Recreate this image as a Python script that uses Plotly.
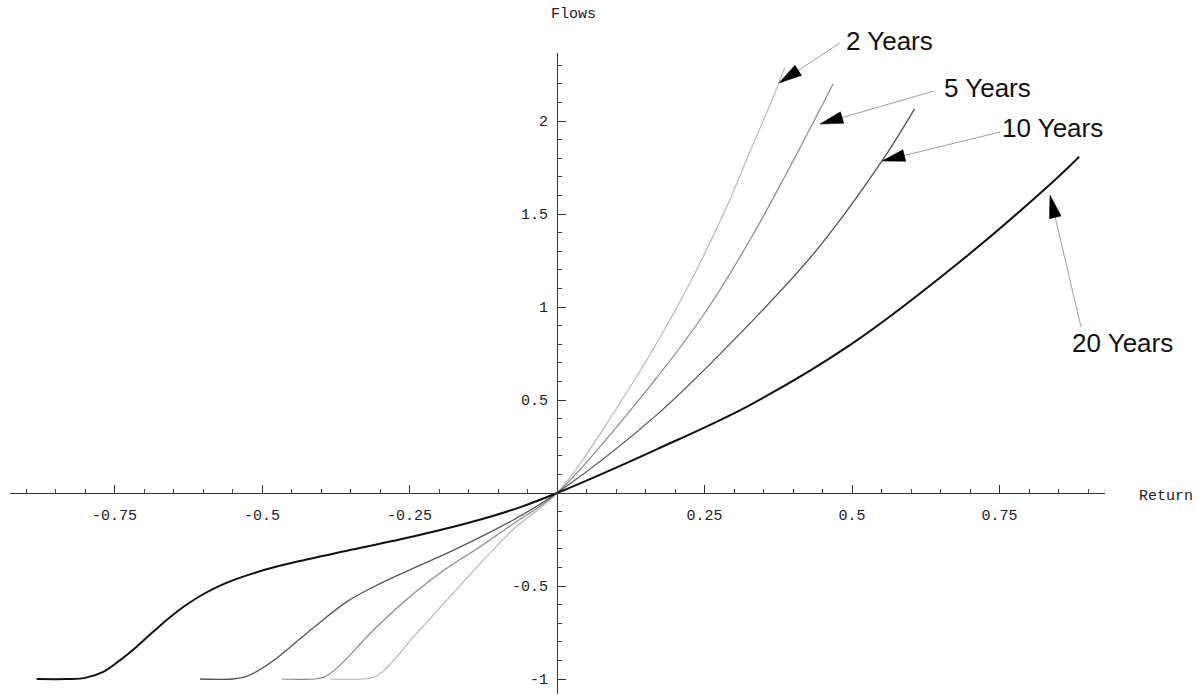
import math
import plotly.graph_objects as go

# ---- data ----
x_2y = [-0.385, -0.33, -0.31, -0.295, -0.272, -0.244, -0.187, -0.131, -0.074, 0.0, 0.10, 0.202, 0.285, 0.327, 0.364, 0.386]
y_2y = [-1.0, -1.0, -0.99, -0.96, -0.882, -0.776, -0.577, -0.382, -0.195, 0.0, 0.45, 0.99, 1.52, 1.835, 2.11, 2.287]

x_5y = [-0.467, -0.41, -0.395, -0.38, -0.356, -0.328, -0.30, -0.244, -0.187, -0.131, -0.074, 0.0, 0.169, 0.254, 0.327, 0.389, 0.454, 0.468]
y_5y = [-1.0, -1.0, -0.99, -0.96, -0.889, -0.793, -0.703, -0.543, -0.405, -0.29, -0.165, 0.0, 0.62, 0.984, 1.36, 1.719, 2.113, 2.20]

x_10y = [-0.605, -0.55, -0.53, -0.515, -0.481, -0.436, -0.413, -0.356, -0.30, -0.244, -0.187, -0.131, -0.074, 0.0, 0.169, 0.327, 0.44, 0.55, 0.606]
y_10y = [-1.0, -1.0, -0.99, -0.97, -0.902, -0.785, -0.725, -0.584, -0.487, -0.405, -0.325, -0.239, -0.145, 0.0, 0.42, 0.912, 1.306, 1.781, 2.065]

x_20y = [-0.882, -0.83, -0.80, -0.769, -0.741, -0.712, -0.684, -0.656, -0.628, -0.599, -0.571, -0.543, -0.515, -0.486, -0.436, -0.356, -0.244, -0.131, -0.063, 0.0, 0.169, 0.327, 0.497, 0.666, 0.836, 0.885]
y_20y = [-1.0, -1.0, -0.994, -0.962, -0.90, -0.825, -0.745, -0.668, -0.601, -0.543, -0.498, -0.462, -0.432, -0.405, -0.366, -0.310, -0.234, -0.144, -0.077, 0.0, 0.235, 0.473, 0.796, 1.20, 1.66, 1.808]

series_names = ["2 Years", "5 Years", "10 Years", "20 Years"]

x_ticks = [-0.75, -0.5, -0.25, 0.25, 0.5, 0.75]
x_tick_labels = ["-0.75", "-0.5", "-0.25", "0.25", "0.5", "0.75"]
y_ticks = [-1, -0.5, 0.5, 1, 1.5, 2]
y_tick_labels = ["-1", "-0.5", "0.5", "1", "1.5", "2"]

# ---- layout / decoration (pixel positions) ----
W, H = 1197, 697
label_px = {"2 Years": (889, 41), "5 Years": (987, 88),
            "10 Years": (1052, 128), "20 Years": (1122, 343)}
tip_px = {"2 Years": (779, 83), "5 Years": (820, 124),
          "10 Years": (882, 161), "20 Years": (1050, 195)}
tail_px = {"2 Years": (840, 43), "5 Years": (934, 91),
           "10 Years": (1000, 132), "20 Years": (1081, 327)}

colors = ["#b4b4b4", "#8a8a8a", "#555555", "#111111"]
widths = [1.1, 1.2, 1.3, 2.0]

def px2paper(px, py):
    return px / W, (H - py) / H

fig = go.Figure()
for xs, ys, name, c, w in zip([x_2y, x_5y, x_10y, x_20y], [y_2y, y_5y, y_10y, y_20y],
                              series_names, colors, widths):
    fig.add_trace(go.Scatter(x=xs, y=ys, mode="lines", name=name,
                             line=dict(color=c, width=w, shape="spline", smoothing=1.0),
                             showlegend=False, hoverinfo="skip"))

x0_px, x1_px = 10, 1105
y_top_px, y_bot_px = 53, 694
orig_x_px, orig_y_px = 557, 493
xs_per_px = 1 / 590.0
ys_per_px = 1 / 186.0
x_range = [(x0_px - orig_x_px) * xs_per_px, (x1_px - orig_x_px) * xs_per_px]
y_range = [(orig_y_px - y_bot_px) * ys_per_px, (orig_y_px - y_top_px) * ys_per_px]

mono = "Liberation Mono, DejaVu Sans Mono, monospace"
fig.update_layout(
    width=W, height=H, margin=dict(l=0, r=0, t=0, b=0),
    paper_bgcolor="white", plot_bgcolor="white",
    xaxis=dict(domain=[x0_px / W, x1_px / W], range=x_range, anchor="free",
               position=(H - orig_y_px) / H, showgrid=False, zeroline=False,
               showline=True, linecolor="#333", linewidth=1.2,
               tickmode="array", tickvals=x_ticks, ticktext=x_tick_labels,
               ticks="inside", ticklen=8, tickcolor="#333", tickwidth=1,
               ticklabelstandoff=8,
               minor=dict(dtick=0.05, tick0=0, ticks="inside", ticklen=4, tickcolor="#444", tickwidth=1),
               tickfont=dict(family=mono, size=15, color="#222")),
    yaxis=dict(domain=[(H - y_bot_px) / H, (H - y_top_px) / H], range=y_range, anchor="free",
               position=orig_x_px / W, showgrid=False, zeroline=False,
               showline=True, linecolor="#333", linewidth=1.2,
               tickmode="array", tickvals=y_ticks, ticktext=y_tick_labels,
               ticks="inside", ticklen=8, tickcolor="#333", tickwidth=1,
               ticklabelstandoff=6,
               minor=dict(dtick=0.1, tick0=0, ticks="inside", ticklen=4, tickcolor="#444", tickwidth=1),
               tickfont=dict(family=mono, size=15, color="#222")),
)

ann = []
fx, fy = px2paper(573, 15)
ann.append(dict(x=fx, y=fy, xref="paper", yref="paper", text="Flows", showarrow=False,
                xanchor="center", yanchor="middle", font=dict(family=mono, size=15, color="#222")))
rx, ry = px2paper(1166, 496)
ann.append(dict(x=rx, y=ry, xref="paper", yref="paper", text="Return", showarrow=False,
                xanchor="center", yanchor="middle", font=dict(family=mono, size=15, color="#222")))

shapes = []
HEAD_LEN, HEAD_HALF = 23, 6
for name in series_names:
    tx, ty = tip_px[name]
    sx, sy = tail_px[name]
    dx, dy = sx - tx, sy - ty
    d = math.hypot(dx, dy)
    ux, uy = dx / d, dy / d
    bx, by = tx + ux * HEAD_LEN, ty + uy * HEAD_LEN
    nx, ny = -uy, ux
    p0 = px2paper(bx, by)
    p1 = px2paper(sx, sy)
    shapes.append(dict(type="line", xref="paper", yref="paper", x0=p0[0], y0=p0[1], x1=p1[0], y1=p1[1],
                       line=dict(color="#a0a0a0", width=1)))
    a = px2paper(tx, ty)
    b = px2paper(bx + nx * HEAD_HALF, by + ny * HEAD_HALF)
    c = px2paper(bx - nx * HEAD_HALF, by - ny * HEAD_HALF)
    path = f"M {a[0]:.5f},{a[1]:.5f} L {b[0]:.5f},{b[1]:.5f} L {c[0]:.5f},{c[1]:.5f} Z"
    shapes.append(dict(type="path", xref="paper", yref="paper", path=path,
                       fillcolor="#000000", line=dict(color="#000000", width=0.5)))
    lx, ly = px2paper(*label_px[name])
    ann.append(dict(x=lx, y=ly, xref="paper", yref="paper", text=name, showarrow=False,
                    xanchor="center", yanchor="middle",
                    font=dict(family="Liberation Sans, Arial, sans-serif", size=26, color="#111")))
fig.update_layout(annotations=ann, shapes=shapes)

fig.write_html("out.html", config={"displayModeBar": False},
               post_script="document.body.style.margin='0';")
